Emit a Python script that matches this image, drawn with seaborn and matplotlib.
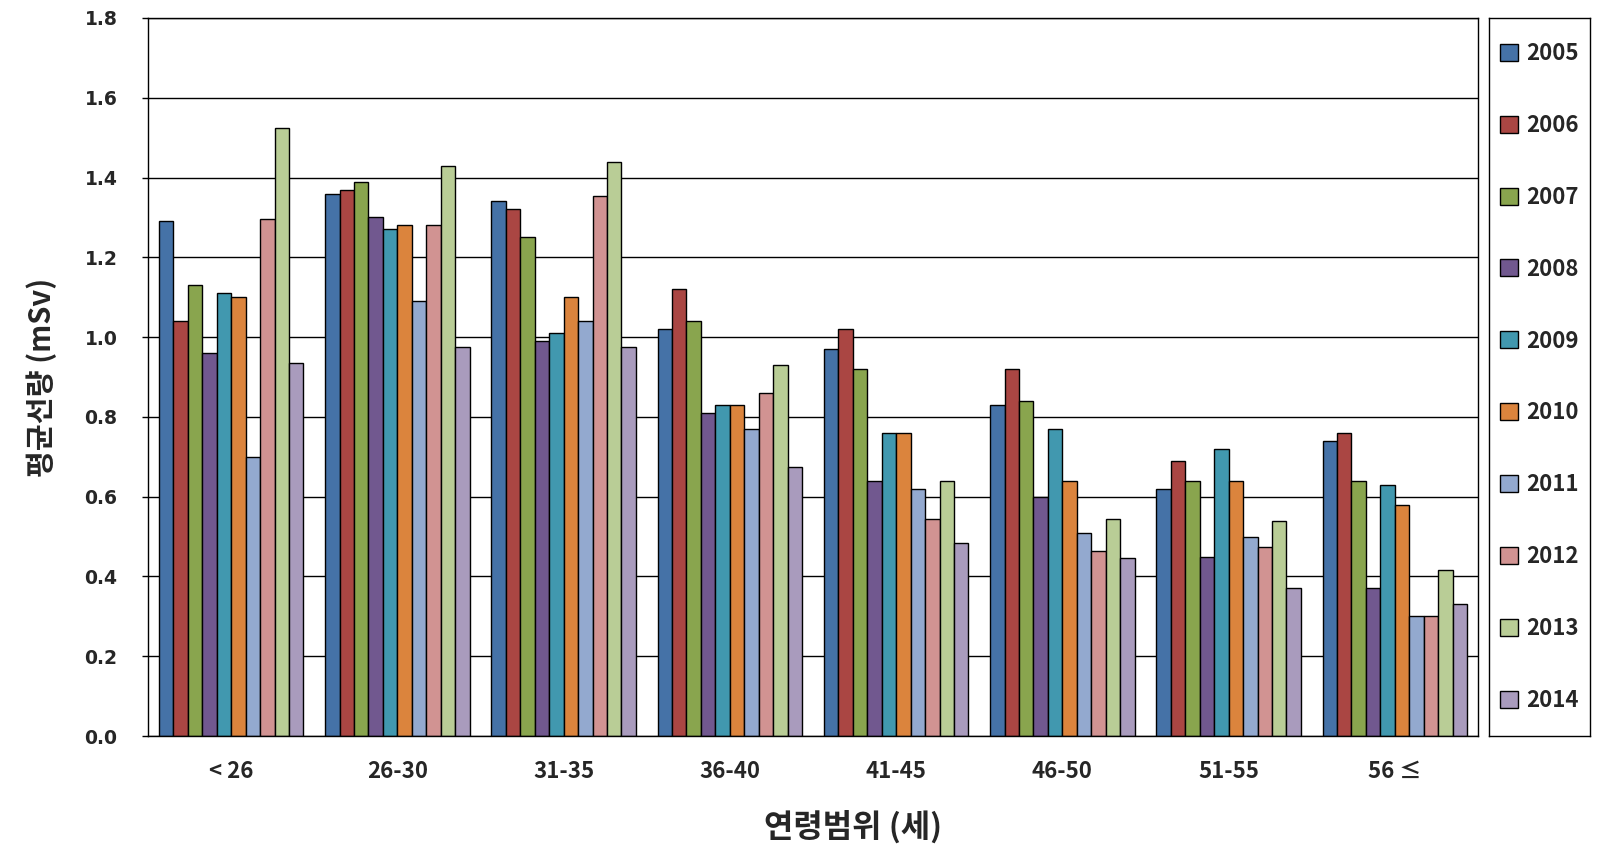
import matplotlib
matplotlib.use("Agg")
import matplotlib.pyplot as plt
import seaborn as sns
import pandas as pd
import numpy as np

categories = ["< 26", "26-30", "31-35", "36-40", "41-45", "46-50", "51-55", "56 ≤"]
years = ["2005", "2006", "2007", "2008", "2009", "2010", "2011", "2012", "2013", "2014"]

v2005 = [1.29, 1.36, 1.34, 1.02, 0.97, 0.83, 0.62, 0.74]
v2006 = [1.04, 1.37, 1.32, 1.12, 1.02, 0.92, 0.69, 0.76]
v2007 = [1.13, 1.39, 1.25, 1.04, 0.92, 0.84, 0.64, 0.64]
v2008 = [0.96, 1.30, 0.99, 0.81, 0.64, 0.60, 0.45, 0.37]
v2009 = [1.11, 1.27, 1.01, 0.83, 0.76, 0.77, 0.72, 0.63]
v2010 = [1.10, 1.28, 1.10, 0.83, 0.76, 0.64, 0.64, 0.58]
v2011 = [0.70, 1.09, 1.04, 0.77, 0.62, 0.51, 0.50, 0.30]
v2012 = [1.295, 1.28, 1.355, 0.86, 0.545, 0.465, 0.475, 0.30]
v2013 = [1.525, 1.43, 1.44, 0.93, 0.64, 0.545, 0.54, 0.415]
v2014 = [0.935, 0.975, 0.975, 0.675, 0.485, 0.445, 0.37, 0.33]

series = [v2005, v2006, v2007, v2008, v2009, v2010, v2011, v2012, v2013, v2014]
colors = ["#4572A7", "#AA4643", "#89A54E", "#71588F", "#4198AF",
          "#DB843D", "#93A9CF", "#D19392", "#B9CD96", "#A99BBD"]

rows = []
for y, vals in zip(years, series):
    for c, v in zip(categories, vals):
        rows.append({"age": c, "year": y, "value": v})
df = pd.DataFrame(rows)

sns.set_style("white")
plt.rcParams["font.family"] = ["DejaVu Sans", "Noto Sans CJK KR"]
KR = ["Noto Sans CJK KR", "DejaVu Sans"]

fig = plt.figure(figsize=(15.98, 8.51), dpi=100)
ax = fig.add_axes([148 / 1598, 1 - 736 / 851, (1478 - 148) / 1598, (736 - 18) / 851])

sns.barplot(data=df, x="age", y="value", hue="year", order=categories,
            hue_order=years, palette=colors, width=0.87, gap=0,
            edgecolor="black", linewidth=1.0, saturation=1, ax=ax,
            errorbar=None)

yt = np.arange(0, 1.81, 0.2)
ax.set_ylim(0, 1.8)
ax.set_yticks(yt)
ax.set_yticklabels([f"{t:.1f}" for t in yt], fontsize=13.5, fontweight="bold")
ax.set_xlim(-0.5, len(categories) - 0.5)
ax.set_xticks(range(len(categories)))
ax.set_xticklabels(categories, fontsize=16, fontweight="bold", family=KR)
ax.tick_params(axis="x", length=0, pad=17)
ax.set_xticks(np.arange(0.5, len(categories) - 0.5, 1), minor=True)
ax.tick_params(axis="x", which="minor", direction="in", length=5, width=1, color="black")
ax.tick_params(axis="y", direction="out", length=4, width=1, color="black", left=True, pad=18)

ax.yaxis.grid(True, color="black", linewidth=1)
ax.set_axisbelow(True)
for s in ax.spines.values():
    s.set_visible(True)
    s.set_color("black")
    s.set_linewidth(1)

ax.set_ylabel("평균선량 (mSv)", fontsize=21, fontweight="bold", family=KR, labelpad=20)
ax.set_xlabel("연령범위 (세)", fontsize=23, fontweight="bold", family=KR, labelpad=20)
ax.xaxis.label.set_x(0.53)

handles, labels = ax.get_legend_handles_labels()
ax.legend_.remove()

lax = fig.add_axes([1489 / 1598, 1 - 736 / 851, (1590 - 1489) / 1598, (736 - 18) / 851])
lax.set_xticks([])
lax.set_yticks([])
for s in lax.spines.values():
    s.set_color("black")
    s.set_linewidth(1)
leg = lax.legend(handles, labels, loc="center",
                 frameon=False,
                 prop={"weight": "bold", "size": 16, "family": KR},
                 labelspacing=2.2, handlelength=0.8, handleheight=0.8,
                 handletextpad=0.4, borderpad=0, borderaxespad=0)

fig.savefig("out.png", dpi=100)
